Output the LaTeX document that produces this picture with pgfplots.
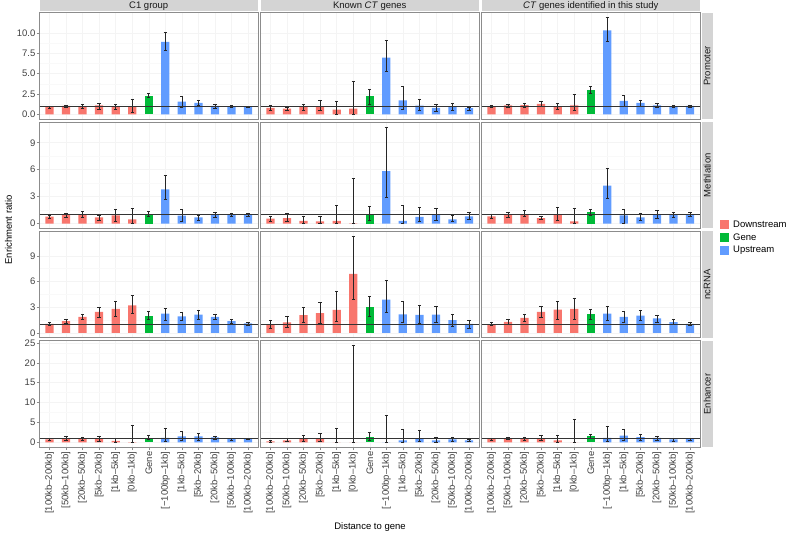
\documentclass[border=0pt]{standalone}
\usepackage{fontspec}
\setmainfont{Liberation Sans}
\usepackage{pgfplots}
\usepackage{pgfplotstable}
\pgfplotsset{compat=1.18}

\definecolor{down}{HTML}{F8766D}
\definecolor{gene}{HTML}{00BA38}
\definecolor{up}{HTML}{619CFF}
\definecolor{strip}{HTML}{D4D4D4}
\definecolor{txt}{HTML}{404040}
\definecolor{frame}{HTML}{8C8C8C}
\newcommand\fs{\fontsize{9.5}{11}\selectfont}

% columns: x, bar height, lower and upper end of error bar
% Promoter
\pgfplotstableread{
x y lo hi
1 0.90 0.80 1.00
2 1.05 0.90 1.13
3 1.00 0.80 1.25
4 1.10 0.65 1.40
5 0.95 0.60 1.30
6 0.95 0.30 1.90
7 2.27 2.05 2.60
8 8.90 7.90 10.10
9 1.58 0.93 2.23
10 1.42 1.10 1.75
11 1.05 0.80 1.30
12 0.97 0.85 1.10
13 0.97 0.87 1.05
}\prC
\pgfplotstableread{
x y lo hi
1 0.81 0.53 1.10
2 0.73 0.50 0.93
3 0.89 0.53 1.30
4 0.97 0.50 1.70
5 0.60 0.08 1.62
6 0.73 0.00 4.05
7 2.30 1.20 3.10
8 6.96 5.30 9.10
9 1.74 0.69 3.50
10 1.09 0.53 1.90
11 0.81 0.40 1.25
12 0.93 0.50 1.40
13 0.77 0.50 0.93
}\prK
\pgfplotstableread{
x y lo hi
1 1.00 0.85 1.10
2 1.10 0.90 1.30
3 1.13 0.85 1.38
4 1.30 1.00 1.60
5 1.00 0.60 1.40
6 1.10 0.50 2.50
7 3.04 2.63 3.45
8 10.30 9.00 11.86
9 1.66 1.00 2.40
10 1.42 1.05 1.78
11 1.10 0.85 1.34
12 1.00 0.85 1.10
13 1.05 0.90 1.13
}\prS
% Methlation
\pgfplotstableread{
x y lo hi
1 0.77 0.60 0.92
2 0.96 0.73 1.10
3 1.03 0.73 1.32
4 0.70 0.40 0.92
5 0.92 0.30 1.58
6 0.48 0.00 1.76
7 1.10 0.80 1.36
8 3.82 2.70 5.40
9 0.88 0.30 1.54
10 0.70 0.40 0.92
11 0.99 0.73 1.29
12 0.99 0.77 1.14
13 1.03 0.80 1.14
}\meC
\pgfplotstableread{
x y lo hi
1 0.55 0.26 0.85
2 0.62 0.30 1.10
3 0.30 0.04 0.77
4 0.26 0.00 0.85
5 0.30 0.00 2.02
6 0.02 0.00 5.07
7 1.10 0.37 1.88
8 5.85 2.94 10.77
9 0.30 0.00 2.02
10 0.74 0.26 1.84
11 0.99 0.40 1.73
12 0.48 0.26 0.92
13 0.81 0.48 1.29
}\meK
\pgfplotstableread{
x y lo hi
1 0.81 0.62 1.03
2 0.99 0.73 1.29
3 1.07 0.77 1.43
4 0.62 0.44 0.85
5 0.96 0.33 1.84
6 0.26 0.00 1.76
7 1.25 0.96 1.62
8 4.23 2.83 6.14
9 0.92 0.07 1.65
10 0.70 0.37 1.14
11 1.03 0.59 1.43
12 1.03 0.70 1.29
13 1.03 0.81 1.25
}\meS
% ncRNA
\pgfplotstableread{
x y lo hi
1 1.07 0.84 1.23
2 1.38 1.11 1.65
3 1.88 1.65 2.22
4 2.45 1.88 3.03
5 2.80 1.95 3.72
6 3.22 2.26 4.40
7 2.03 1.61 2.49
8 2.26 1.53 2.91
9 1.92 1.42 2.45
10 2.15 1.61 2.64
11 1.88 1.61 2.22
12 1.38 1.15 1.61
13 1.11 0.92 1.23
}\ncC
\pgfplotstableread{
x y lo hi
1 1.00 0.57 1.42
2 1.23 0.65 1.92
3 2.07 1.26 2.95
4 2.30 1.07 3.56
5 2.68 1.34 4.87
6 6.90 3.98 11.30
7 2.99 1.95 4.33
8 3.90 2.38 6.17
9 2.18 1.23 3.64
10 2.10 1.07 3.26
11 2.15 1.23 3.14
12 1.49 0.80 2.18
13 1.07 0.50 1.46
}\ncK
\pgfplotstableread{
x y lo hi
1 1.03 0.84 1.19
2 1.30 1.00 1.61
3 1.76 1.34 2.15
4 2.45 1.84 3.10
5 2.72 1.65 3.68
6 2.80 1.57 4.06
7 2.18 1.65 2.72
8 2.26 1.53 3.07
9 1.88 1.23 2.53
10 2.03 1.49 2.60
11 1.69 1.26 2.11
12 1.26 1.00 1.57
13 1.07 0.88 1.26
}\ncS
% Enhancer
\pgfplotstableread{
x y lo hi
1 0.80 0.60 1.00
2 1.08 0.66 1.50
3 0.90 0.50 1.25
4 1.00 0.41 1.50
5 0.41 0.00 1.16
6 0.10 0.00 4.40
7 1.16 0.75 1.74
8 1.16 0.41 3.57
9 1.50 0.58 2.74
10 1.50 0.66 2.24
11 1.25 0.75 1.66
12 0.90 0.66 1.16
13 0.90 0.75 1.08
}\enC
\pgfplotstableread{
x y lo hi
1 0.25 0.00 0.50
2 0.50 0.17 1.16
3 1.08 0.41 1.90
4 1.00 0.17 2.40
5 0.05 0.00 3.57
6 0.02 0.00 24.30
7 1.25 0.58 2.49
8 0.05 0.00 6.90
9 0.50 0.00 3.40
10 0.90 0.41 3.00
11 0.50 0.00 1.25
12 0.75 0.33 1.33
13 0.50 0.17 0.90
}\enK
\pgfplotstableread{
x y lo hi
1 0.90 0.66 1.08
2 1.08 0.75 1.41
3 1.08 0.66 1.33
4 1.08 0.58 1.90
5 0.50 0.00 1.74
6 0.03 0.00 5.70
7 1.50 1.00 2.07
8 1.16 0.33 3.98
9 1.74 0.50 3.24
10 1.33 0.50 2.16
11 1.16 0.50 1.50
12 0.75 0.25 1.16
13 0.90 0.50 1.08
}\enS

\pgfplotsset{
  panel/.style={
    scale only axis, width=218.5pt, height=106.5pt,
    xmin=0.4, xmax=13.6,
    axis line style={frame, line width=0.6pt},
    xtick={1,...,13}, xticklabels={},
    tick align=outside, major tick length=2.5pt, minor tick length=0pt,
    xtick pos=bottom, ytick pos=left,
    tick style={frame, line width=0.5pt},
    xtick style={draw=none},
    grid=both, minor y tick num=1,
    major grid style={gray!9, line width=0.5pt},
    minor grid style={gray!5, line width=0.4pt},
    ticklabel style={font=\fs, text=txt},
    yticklabel style={inner sep=1.5pt},
    xticklabel style={rotate=90, anchor=east, inner sep=1.5pt},
  },
  r1/.style={ymin=-0.59, ymax=12.45, ytick={0,2.5,5,7.5,10}, yticklabels={0.0,2.5,5.0,7.5,10.0}},
  r2/.style={ymin=-0.54, ymax=11.31, ytick={0,3,6,9}, yticklabels={0,3,6,9}},
  r3/.style={ymin=-0.565, ymax=11.865, ytick={0,3,6,9}, yticklabels={0,3,6,9}},
  r4/.style={ymin=-1.215, ymax=25.515, ytick={0,5,...,25}, yticklabels={0,5,10,15,20,25}},
  noy/.style={yticklabels={}, ytick style={draw=none}},
  xlab/.style={xtick style={draw=frame},
    xticklabels={[100kb--200kb],[50kb--100kb],[20kb--50kb],[5kb--20kb],[1kb--5kb],[0kb--1kb],Gene,[−100bp--1kb],[1kb--5kb],[5kb--20kb],[20kb--50kb],[50kb--100kb],[100kb--200kb]}},
}

\newcommand\panel[4]{%
  \begin{axis}[panel, at={(#1pt,#2pt)}, anchor=north west, #3]
    \addplot[ybar, bar shift=0pt, bar width=0.5, fill=down, draw=none, restrict x to domain=1:6] table[x=x, y=y] {#4};
    \addplot[ybar, bar shift=0pt, bar width=0.5, fill=gene, draw=none, restrict x to domain=7:7] table[x=x, y=y] {#4};
    \addplot[ybar, bar shift=0pt, bar width=0.5, fill=up, draw=none, restrict x to domain=8:13] table[x=x, y=y] {#4};
    \addplot[draw=none, mark=none,
      error bars/.cd, y dir=both, y explicit,
      error bar style={draw=black!85, line width=0.6pt},
      error mark options={rotate=90, mark size=1.6pt, draw=black!85, line width=0.6pt}]
      table[x=x, y=y, y error plus expr=\thisrow{hi}-\thisrow{y}, y error minus expr=\thisrow{y}-\thisrow{lo}] {#4};
    \addplot[black!80, line width=0.8pt] coordinates {(0.4,1) (13.6,1)};
  \end{axis}}

\begin{document}
\begin{tikzpicture}[x=1pt, y=1pt]
\useasboundingbox (0,0) rectangle (788,534);

\panel{39.5}{521.2}{r1}{\prC}
\panel{260.5}{521.2}{r1,noy}{\prK}
\panel{481.5}{521.2}{r1,noy}{\prS}
\panel{39.5}{412}{r2}{\meC}
\panel{260.5}{412}{r2,noy}{\meK}
\panel{481.5}{412}{r2,noy}{\meS}
\panel{39.5}{302.7}{r3}{\ncC}
\panel{260.5}{302.7}{r3,noy}{\ncK}
\panel{481.5}{302.7}{r3,noy}{\ncS}
\panel{39.5}{193.2}{r4,xlab}{\enC}
\panel{260.5}{193.2}{r4,noy,xlab}{\enK}
\panel{481.5}{193.2}{r4,noy,xlab}{\enS}

% facet strips
\foreach \xa/\lab in {39.5/{C1 group}, 260.5/{Known \textit{CT} genes}, 481.5/{\textit{CT} genes identified in this study}} {
  \fill[strip] (\xa,522.6) rectangle ++(218.5,11.4);
  \node[font=\fs, text=black!90] at (\xa+109.25,528.3) {\lab};
}
\foreach \yt/\lab in {521.2/Promoter, 412/Methlation, 302.7/ncRNA, 193.2/Enhancer} {
  \fill[strip] (701.5,\yt) rectangle ++(11.5,-106.5);
  \node[font=\fs, text=black!90, rotate=90] at (707.25,\yt-53.25) {\lab};
}

% legend
\foreach \yc/\col/\lab in {309.5/down/Downstream, 296.5/gene/Gene, 283.5/up/Upstream} {
  \fill[\col] (720,\yc-4.5) rectangle ++(9,9);
  \node[font=\fs, anchor=west, inner sep=0pt] at (733,\yc) {\lab};
}

\node[font=\fs, rotate=90] at (8.5,304) {Enrichment ratio};
\node[font=\fs] at (370,7) {Distance to gene};
\end{tikzpicture}
\end{document}
